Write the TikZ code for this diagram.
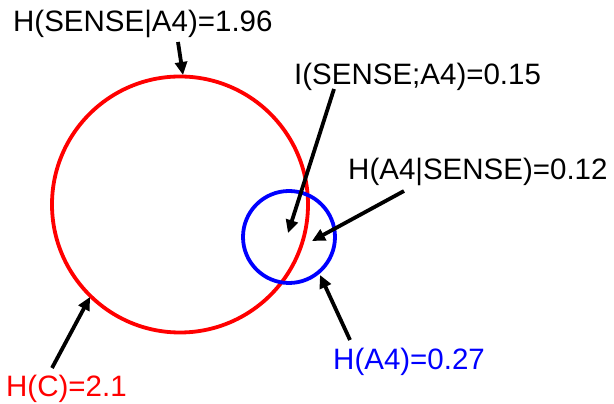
\documentclass[tikz,border=0pt]{standalone}
\usepackage{fontspec}
\setmainfont{Liberation Sans}
\usetikzlibrary{arrows.meta}

\begin{document}
\begin{tikzpicture}[
        x=1pt, y=1pt,
        lbl/.style={
            anchor=base west,
            inner sep=0pt,
            font=\fontsize{29.5}{34}\selectfont
        },
        set/.style={
            circle,
            draw,
            line width=3.8pt,
            inner sep=0pt
        },
        arr/.style={-{Triangle[length=13pt,width=12pt]}, line width=3.8pt, black}
    ]
        \useasboundingbox (0,0) rectangle (614,404);
        \node[set, draw=red, minimum size=256pt] (C) at (180,199.5) {};
        \node[set, draw=blue, minimum size=92pt] (A4) at (289,167) {};
        \node[lbl] (hcond) at (13,372) {H(SENSE|A4)=1.96};
        \node[lbl] (mi) at (294,319) {I(SENSE;A4)=0.15};
        \node[lbl] (hacond) at (348,224) {H(A4|SENSE)=0.12};
        \node[lbl, text=blue] (ha) at (333,34) {H(A4)=0.27};
        \node[lbl, text=red] (hc) at (6,7) {H(C)=2.1};
        \coordinate (hcondtail) at (178,362);
        \coordinate (hcondtip) at (183,329);
        \coordinate (mitail) at (334,315);
        \coordinate (mitip) at (288,171);
        \coordinate (hacondtail) at (404,213);
        \coordinate (hacondtip) at (312,163);
        \coordinate (hatail) at (350,64);
        \coordinate (hatip) at (320,129);
        \coordinate (hctail) at (52,36);
        \coordinate (hctip) at (90,107);
        \draw[arr] (hcondtail) -- (hcondtip);
        \draw[arr] (mitail) -- (mitip);
        \draw[arr] (hacondtail) -- (hacondtip);
        \draw[arr] (hatail) -- (hatip);
        \draw[arr] (hctail) -- (hctip);
    \end{tikzpicture}
\end{document}
